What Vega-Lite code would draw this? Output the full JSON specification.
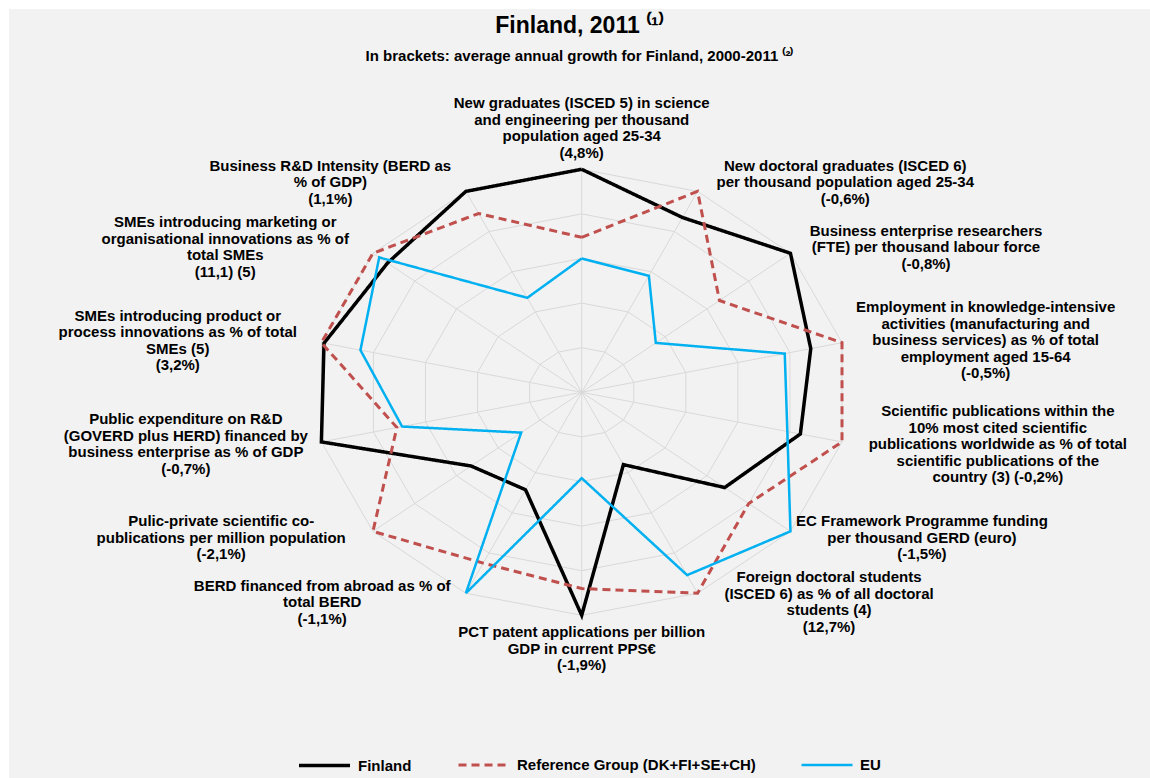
{
  "$schema": "https://vega.github.io/schema/vega-lite/v6.json",
  "width": 1141,
  "height": 769,
  "autosize": {"type": "none"},
  "padding": {"left": 9, "top": 9, "right": 0, "bottom": 0},
  "background": "white",
  "config": {"view": {"fill": "#f2f2f2", "stroke": null}, "font": "Liberation Sans"},
  "title": {
    "text": "Finland, 2011 ⁽¹⁾",
    "subtitle": "In brackets: average annual growth for Finland,  2000-2011 ⁽²⁾",
    "font": "Liberation Sans",
    "fontSize": 23,
    "fontWeight": "bold",
    "color": "#000000",
    "subtitleFont": "Liberation Sans",
    "subtitleFontSize": 15,
    "subtitleFontWeight": "bold",
    "subtitleColor": "#000000",
    "subtitlePadding": 11,
    "anchor": "middle",
    "offset": -55
  },
  "datasets": {
    "axes": [
      {"k": 0, "levels": [0.2, 0.4, 0.6, 0.8, 1.0]},
      {"k": 1, "levels": [0.2, 0.4, 0.6, 0.8, 1.0]},
      {"k": 2, "levels": [0.2, 0.4, 0.6, 0.8, 1.0]},
      {"k": 3, "levels": [0.2, 0.4, 0.6, 0.8, 1.0]},
      {"k": 4, "levels": [0.2, 0.4, 0.6, 0.8, 1.0]},
      {"k": 5, "levels": [0.2, 0.4, 0.6, 0.8, 1.0]},
      {"k": 6, "levels": [0.2, 0.4, 0.6, 0.8, 1.0]},
      {"k": 7, "levels": [0.2, 0.4, 0.6, 0.8, 1.0]},
      {"k": 8, "levels": [0.2, 0.4, 0.6, 0.8, 1.0]},
      {"k": 9, "levels": [0.2, 0.4, 0.6, 0.8, 1.0]},
      {"k": 10, "levels": [0.2, 0.4, 0.6, 0.8, 1.0]},
      {"k": 11, "levels": [0.2, 0.4, 0.6, 0.8, 1.0]},
      {"k": 12, "levels": [0.2, 0.4, 0.6, 0.8, 1.0]},
      {"k": 13, "levels": [0.2, 0.4, 0.6, 0.8, 1.0]},
      {"k": 14, "levels": [0.2, 0.4, 0.6, 0.8, 1.0]}
    ],
    "series": [
      {"series": "Finland", "k": 0, "v": 1.0},
      {"series": "Finland", "k": 1, "v": 0.87},
      {"series": "Finland", "k": 2, "v": 1.0},
      {"series": "Finland", "k": 3, "v": 0.88},
      {"series": "Finland", "k": 4, "v": 0.84},
      {"series": "Finland", "k": 5, "v": 0.685},
      {"series": "Finland", "k": 6, "v": 0.36},
      {"series": "Finland", "k": 7, "v": 1.0},
      {"series": "Finland", "k": 8, "v": 0.485},
      {"series": "Finland", "k": 9, "v": 0.53},
      {"series": "Finland", "k": 10, "v": 1.0},
      {"series": "Finland", "k": 11, "v": 0.99},
      {"series": "Finland", "k": 12, "v": 0.93},
      {"series": "Finland", "k": 13, "v": 1.0},
      {"series": "Finland", "k": 14, "v": 1.0},
      {"series": "Reference Group (DK+FI+SE+CH)", "k": 0, "v": 0.695},
      {"series": "Reference Group (DK+FI+SE+CH)", "k": 1, "v": 1.0},
      {"series": "Reference Group (DK+FI+SE+CH)", "k": 2, "v": 0.66},
      {"series": "Reference Group (DK+FI+SE+CH)", "k": 3, "v": 1.0},
      {"series": "Reference Group (DK+FI+SE+CH)", "k": 4, "v": 1.0},
      {"series": "Reference Group (DK+FI+SE+CH)", "k": 5, "v": 0.8},
      {"series": "Reference Group (DK+FI+SE+CH)", "k": 6, "v": 1.0},
      {"series": "Reference Group (DK+FI+SE+CH)", "k": 7, "v": 0.88},
      {"series": "Reference Group (DK+FI+SE+CH)", "k": 8, "v": 0.85},
      {"series": "Reference Group (DK+FI+SE+CH)", "k": 9, "v": 1.0},
      {"series": "Reference Group (DK+FI+SE+CH)", "k": 10, "v": 0.71},
      {"series": "Reference Group (DK+FI+SE+CH)", "k": 11, "v": 1.0},
      {"series": "Reference Group (DK+FI+SE+CH)", "k": 12, "v": 1.0},
      {"series": "Reference Group (DK+FI+SE+CH)", "k": 13, "v": 0.89},
      {"series": "Reference Group (DK+FI+SE+CH)", "k": 14, "v": 0.695},
      {"series": "EU", "k": 0, "v": 0.6},
      {"series": "EU", "k": 1, "v": 0.58},
      {"series": "EU", "k": 2, "v": 0.355},
      {"series": "EU", "k": 3, "v": 0.78},
      {"series": "EU", "k": 4, "v": 0.79},
      {"series": "EU", "k": 5, "v": 1.0},
      {"series": "EU", "k": 6, "v": 0.91},
      {"series": "EU", "k": 7, "v": 0.385},
      {"series": "EU", "k": 8, "v": 1.0},
      {"series": "EU", "k": 9, "v": 0.29},
      {"series": "EU", "k": 10, "v": 0.69},
      {"series": "EU", "k": 11, "v": 0.85},
      {"series": "EU", "k": 12, "v": 0.97},
      {"series": "EU", "k": 13, "v": 0.47},
      {"series": "EU", "k": 14, "v": 0.6}
    ],
    "labels": [
      {"k": 0, "line": 0, "text": "New graduates (ISCED 5) in science"},
      {"k": 0, "line": 1, "text": "and engineering per thousand"},
      {"k": 0, "line": 2, "text": "population aged 25-34"},
      {"k": 0, "line": 3, "text": "(4,8%)"},
      {"k": 1, "line": 0, "text": "New doctoral graduates (ISCED 6)"},
      {"k": 1, "line": 1, "text": "per thousand population aged 25-34"},
      {"k": 1, "line": 2, "text": "(-0,6%)"},
      {"k": 2, "line": 0, "text": "Business enterprise researchers"},
      {"k": 2, "line": 1, "text": "(FTE) per thousand labour force"},
      {"k": 2, "line": 2, "text": "(-0,8%)"},
      {"k": 3, "line": 0, "text": "Employment in knowledge-intensive"},
      {"k": 3, "line": 1, "text": "activities (manufacturing and"},
      {"k": 3, "line": 2, "text": "business services) as % of total"},
      {"k": 3, "line": 3, "text": "employment aged 15-64"},
      {"k": 3, "line": 4, "text": "(-0,5%)"},
      {"k": 4, "line": 0, "text": "Scientific publications within the"},
      {"k": 4, "line": 1, "text": "10% most cited scientific"},
      {"k": 4, "line": 2, "text": "publications worldwide as % of total"},
      {"k": 4, "line": 3, "text": "scientific publications of the"},
      {"k": 4, "line": 4, "text": "country (3) (-0,2%)"},
      {"k": 5, "line": 0, "text": "EC Framework Programme funding"},
      {"k": 5, "line": 1, "text": "per thousand GERD (euro)"},
      {"k": 5, "line": 2, "text": "(-1,5%)"},
      {"k": 6, "line": 0, "text": "Foreign doctoral students"},
      {"k": 6, "line": 1, "text": "(ISCED 6) as % of all doctoral"},
      {"k": 6, "line": 2, "text": "students (4)"},
      {"k": 6, "line": 3, "text": "(12,7%)"},
      {"k": 7, "line": 0, "text": "PCT patent applications per billion"},
      {"k": 7, "line": 1, "text": "GDP in current PPS€"},
      {"k": 7, "line": 2, "text": "(-1,9%)"},
      {"k": 8, "line": 0, "text": "BERD financed from abroad as % of"},
      {"k": 8, "line": 1, "text": "total BERD"},
      {"k": 8, "line": 2, "text": "(-1,1%)"},
      {"k": 9, "line": 0, "text": "Pulic-private scientific co-"},
      {"k": 9, "line": 1, "text": "publications per million population"},
      {"k": 9, "line": 2, "text": "(-2,1%)"},
      {"k": 10, "line": 0, "text": "Public expenditure on R&D"},
      {"k": 10, "line": 1, "text": "(GOVERD plus HERD) financed by"},
      {"k": 10, "line": 2, "text": "business enterprise as % of GDP"},
      {"k": 10, "line": 3, "text": "(-0,7%)"},
      {"k": 11, "line": 0, "text": "SMEs introducing product or"},
      {"k": 11, "line": 1, "text": "process innovations as % of total"},
      {"k": 11, "line": 2, "text": "SMEs (5)"},
      {"k": 11, "line": 3, "text": "(3,2%)"},
      {"k": 12, "line": 0, "text": "SMEs introducing marketing or"},
      {"k": 12, "line": 1, "text": "organisational innovations as % of"},
      {"k": 12, "line": 2, "text": "total SMEs"},
      {"k": 12, "line": 3, "text": "(11,1) (5)"},
      {"k": 13, "line": 0, "text": "Business R&D Intensity (BERD as"},
      {"k": 13, "line": 1, "text": "% of GDP)"},
      {"k": 13, "line": 2, "text": "(1,1%)"}
    ]
  },
  "layer": [
    {
      "data": {"name": "axes"},
      "transform": [
        {"flatten": ["levels"], "as": ["level"]},
        {"calculate": "datum.k * 2 * PI / 14", "as": "ang"},
        {"calculate": "datum.level * sin(datum.ang)", "as": "x"},
        {"calculate": "datum.level * cos(datum.ang)", "as": "y"}
      ],
      "mark": {"type": "line", "color": "#d9d9d9", "strokeWidth": 1},
      "encoding": {
        "x": {"field": "x", "type": "quantitative", "scale": {"domain": [-2.14494, 2.12846], "zero": false, "nice": false}, "axis": null},
        "y": {"field": "y", "type": "quantitative", "scale": {"domain": [-1.7296, 1.71883], "zero": false, "nice": false}, "axis": null},
        "detail": {"field": "level", "type": "nominal"},
        "order": {"field": "k", "type": "quantitative"}
      }
    },
    {
      "data": {"name": "axes"},
      "transform": [
        {"filter": "datum.k < 14"},
        {"calculate": "datum.k * 2 * PI / 14", "as": "ang"},
        {"calculate": "sin(datum.ang)", "as": "x"},
        {"calculate": "cos(datum.ang)", "as": "y"}
      ],
      "mark": {"type": "rule", "color": "#d9d9d9", "strokeWidth": 1},
      "encoding": {
        "x": {"field": "x", "type": "quantitative"},
        "y": {"field": "y", "type": "quantitative"},
        "x2": {"datum": 0},
        "y2": {"datum": 0}
      }
    },
    {
      "data": {"name": "series"},
      "transform": [
        {"calculate": "datum.k * 2 * PI / 14", "as": "ang"},
        {"calculate": "datum.v * sin(datum.ang)", "as": "x"},
        {"calculate": "datum.v * cos(datum.ang)", "as": "y"}
      ],
      "mark": {"type": "line", "strokeJoin": "miter"},
      "encoding": {
        "x": {"field": "x", "type": "quantitative"},
        "y": {"field": "y", "type": "quantitative"},
        "order": {"field": "k", "type": "quantitative"},
        "color": {
          "field": "series", "type": "nominal",
          "scale": {"domain": ["Finland", "Reference Group (DK+FI+SE+CH)", "EU"], "range": ["#000000", "#c0504d", "#00b0f0"]},
          "legend": {
            "orient": "none", "legendX": 288, "legendY": 729, "direction": "horizontal", "title": null,
            "symbolType": "stroke", "symbolSize": 2600, "symbolStrokeWidth": 3.5,
            "labelFont": "Liberation Sans", "labelFontSize": 15, "labelFontWeight": "bold", "labelColor": "#000000",
            "labelOffset": 6, "labelLimit": 500, "columnPadding": 40, "gridAlign": "none"
          }
        },
        "strokeDash": {
          "field": "series", "type": "nominal",
          "scale": {"domain": ["Finland", "Reference Group (DK+FI+SE+CH)", "EU"], "range": [[1, 0], [8, 5], [1, 0]]}
        },
        "strokeWidth": {
          "field": "series", "type": "nominal",
          "scale": {"domain": ["Finland", "Reference Group (DK+FI+SE+CH)", "EU"], "range": [3.5, 2.5, 3.75]}
        }
      }
    },
    {
      "data": {"name": "labels"},
      "transform": [
        {"calculate": "datum.k * 2 * PI / 14", "as": "ang"},
        {"calculate": "sin(datum.ang)", "as": "s"},
        {"calculate": "cos(datum.ang)", "as": "c"},
        {"calculate": "length(datum.text)", "as": "len"},
        {"joinaggregate": [{"op": "max", "field": "len", "as": "maxlen"}, {"op": "count", "as": "n"}], "groupby": ["k"]},
        {"calculate": "abs(datum.s) < 0.01 ? 0 : (datum.s > 0 ? 1 : -1)", "as": "side"},
        {"calculate": "datum.s * 267 + datum.side * (10 + datum.maxlen * 8.1 / 2)", "as": "cxpx"},
        {"calculate": "-datum.c * 223 - datum.c * (datum.side == 0 ? 8.5 + datum.n * 16.5 / 2 : 10)", "as": "cypx"},
        {"calculate": "datum.cypx + (datum.line - (datum.n - 1) / 2) * 16.5", "as": "ypx"},
        {"calculate": "datum.cxpx / 267", "as": "x"},
        {"calculate": "-datum.ypx / 223", "as": "y"}
      ],
      "mark": {"type": "text", "font": "Liberation Sans", "fontSize": 15, "fontWeight": "bold", "color": "#000000", "align": "center", "baseline": "middle"},
      "encoding": {
        "x": {"field": "x", "type": "quantitative"},
        "y": {"field": "y", "type": "quantitative"},
        "text": {"field": "text", "type": "nominal"}
      }
    }
  ]
}
